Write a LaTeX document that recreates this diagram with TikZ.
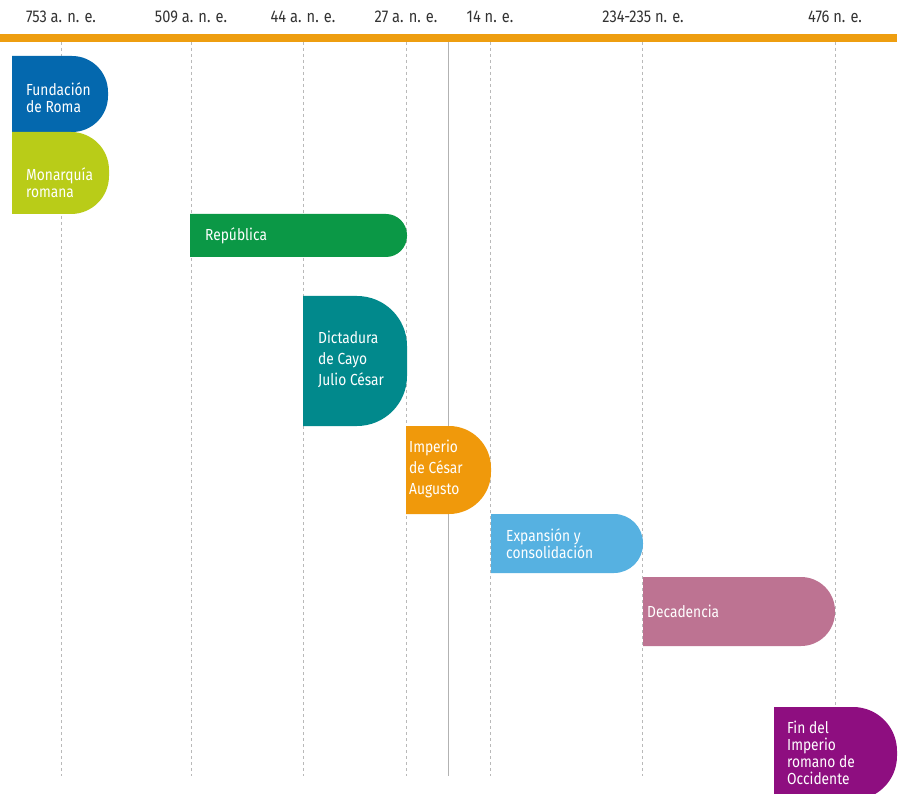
\documentclass[tikz,border=0pt]{standalone}
\usepackage{fontspec}
\setmainfont{Fira Sans}[FakeStretch=0.86]
\definecolor{barorange}{HTML}{EE9E10}
\definecolor{cBlue}{HTML}{0468AE}
\definecolor{cLime}{HTML}{B9CC18}
\definecolor{cGreen}{HTML}{0B9846}
\definecolor{cTeal}{HTML}{01898C}
\definecolor{cOrange}{HTML}{F0990B}
\definecolor{cSky}{HTML}{56B1E1}
\definecolor{cMauve}{HTML}{BD7392}
\definecolor{cPurple}{HTML}{8E0E80}
\definecolor{txtdark}{HTML}{333333}
\tikzset{
  gridline/.style={draw=gray!55, line width=0.8pt, dash pattern=on 3pt off 3pt},
  datelabel/.style={text=txtdark, font={\fontsize{17}{20}\selectfont}, inner sep=0pt},
  boxtext/.style={text=white, anchor=west, align=left, inner sep=0pt, font={\fontsize{16}{17}\selectfont}},
  boxtextwide/.style={boxtext, font={\fontsize{16}{21}\selectfont}},
}
\newcommand{\tlbox}[6]{% color, x1, y1, x2, y2, radius
  \fill[#1] (#2,#3) [rounded corners=#6pt] -- (#4,#3) -- (#4,#5) [sharp corners] -- (#2,#5) -- cycle;}
\begin{document}
\begin{tikzpicture}[x=1pt,y=-1pt]
\useasboundingbox (0,0) rectangle (900,794);
\fill[white] (0,0) rectangle (900,794);
% grid lines
\foreach \gx in {61,191,303,406,490,642,835}{
  \draw[gridline] (\gx,42) -- (\gx,776);
}
\draw[gray!60, line width=1pt] (448,42) -- (448,776);
% bar
\fill[barorange] (0,34) rectangle (897,42);
% date labels
\node[datelabel] (d753) at (61,17) {753 a. n. e.};
\node[datelabel] (d509) at (191,17) {509 a. n. e.};
\node[datelabel] (d44) at (303,17) {44 a. n. e.};
\node[datelabel] (d27) at (406,17) {27 a. n. e.};
\node[datelabel] (d14) at (490,17) {14 n. e.};
\node[datelabel] (d234) at (643,17) {234-235 n. e.};
\node[datelabel] (d476) at (835,17) {476 n. e.};
% boxes
\tlbox{cBlue}{12}{56}{108}{132}{36}
\tlbox{cLime}{12}{132}{109}{214}{38}
\tlbox{cGreen}{190}{214}{407}{257}{21}
\tlbox{cTeal}{303}{296}{407}{426}{50}
\tlbox{cOrange}{406}{426}{491}{514}{42}
\tlbox{cSky}{491}{514}{643}{573}{29}
\tlbox{cMauve}{643}{577}{835}{646}{34}
\tlbox{cPurple}{774}{707}{897}{800}{44}
% texts
\node[boxtext] (t1) at (26,98) {Fundación\\de Roma};
\node[boxtext] (t2) at (26,183) {Monarquía\\romana};
\node[boxtext] (t3) at (205,236) {República};
\node[boxtextwide] (t4) at (318,359) {Dictadura\\de Cayo\\Julio César};
\node[boxtextwide] (t5) at (409,469) {Imperio\\de César\\Augusto};
\node[boxtext] (t6) at (506,544) {Expansión y\\consolidación};
\node[boxtext] (t7) at (647,611) {Decadencia};
\node[boxtext] (t8) at (787,753) {Fin del\\Imperio\\romano de\\Occidente};
\end{tikzpicture}
\end{document}
